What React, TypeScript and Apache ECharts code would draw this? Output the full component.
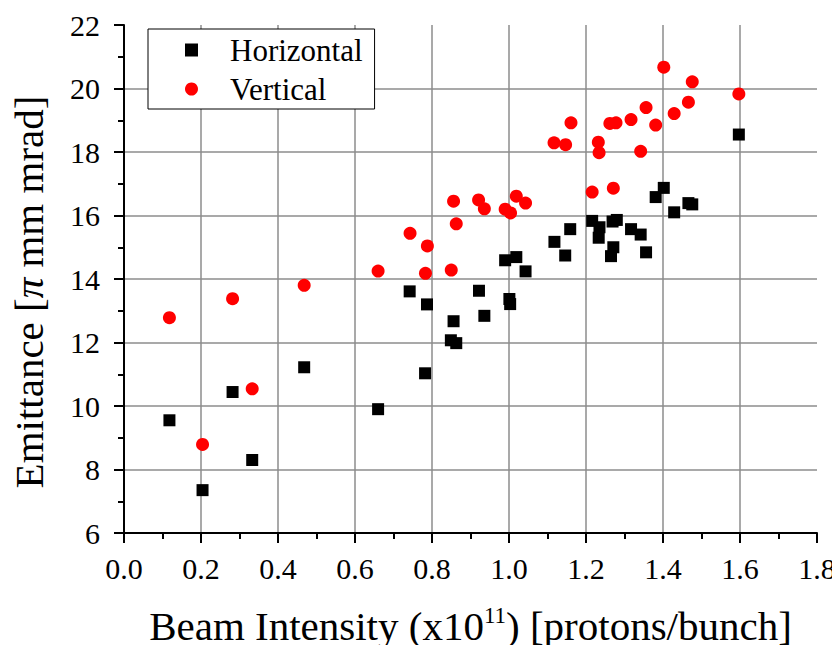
import React, { useEffect, useRef } from "react";
import * as echarts from "echarts";

const hx = [0.118, 0.204, 0.282, 0.333, 0.468, 0.660, 0.742, 0.787, 0.782, 0.856, 0.849, 0.863, 0.922, 0.936, 0.990, 1.001, 1.003, 1.019, 1.043, 1.118, 1.146, 1.159, 1.216, 1.235, 1.233, 1.271, 1.265, 1.269, 1.280, 1.317, 1.342, 1.356, 1.381, 1.402, 1.429, 1.466, 1.476, 1.597];
const hy = [9.55, 7.35, 10.44, 8.30, 11.22, 9.90, 13.61, 13.20, 11.03, 12.67, 12.07, 11.98, 13.63, 12.84, 14.59, 13.37, 13.21, 14.69, 14.24, 15.17, 14.74, 15.57, 15.83, 15.63, 15.30, 15.00, 14.72, 15.81, 15.86, 15.57, 15.40, 14.84, 16.58, 16.87, 16.10, 16.39, 16.35, 18.55];

const vx = [0.118, 0.204, 0.282, 0.333, 0.468, 0.660, 0.743, 0.788, 0.783, 0.850, 0.856, 0.863, 0.921, 0.936, 0.990, 1.004, 1.019, 1.043, 1.117, 1.147, 1.161, 1.216, 1.232, 1.234, 1.262, 1.271, 1.278, 1.317, 1.342, 1.356, 1.381, 1.402, 1.429, 1.466, 1.476, 1.597];
const vy = [12.78, 8.79, 13.38, 10.54, 13.80, 14.25, 15.44, 15.04, 14.18, 14.28, 16.45, 15.74, 16.49, 16.21, 16.20, 16.08, 16.61, 16.39, 18.29, 18.23, 18.92, 16.74, 18.31, 17.98, 18.90, 16.86, 18.92, 19.02, 18.02, 19.40, 18.85, 20.67, 19.21, 19.57, 20.21, 19.83];

const seriesNames = ["Horizontal", "Vertical"];
const xTitle = "Beam Intensity (x10{sup|11}) [protons/bunch]";
const yTitle = "Emittance [{i|π} mm mrad]";

const FONT = "Liberation Serif";

export default function App() {
  const ref = useRef<HTMLDivElement>(null);
  useEffect(() => {
    if (!ref.current) return;
    const chart = echarts.init(ref.current, null, { renderer: "svg" });
    const zip = (xs: number[], ys: number[]) => xs.map((x, i) => [x, ys[i]]);
    chart.setOption({
      animation: false,
      backgroundColor: "#ffffff",
      textStyle: { fontFamily: FONT },
      grid: { left: 124, right: 23, top: 25, bottom: 120, containLabel: false },
      legend: {
        orient: "vertical",
        left: 148,
        top: 29,
        data: [
          { name: seriesNames[0], icon: "rect" },
          { name: seriesNames[1], icon: "circle" },
        ],
        itemWidth: 13,
        itemHeight: 13,
        itemGap: 7,
        padding: [5, 12, 4, 37],
        borderColor: "#000",
        borderWidth: 1,
        borderRadius: 0,
        backgroundColor: "#fff",
        itemStyle: { opacity: 1 },
        textStyle: {
          fontFamily: FONT,
          fontSize: 31,
          color: "#000",
          lineHeight: 32,
          padding: [0, 0, 0, 27],
        },
      },
      xAxis: {
        type: "value",
        min: 0,
        max: 1.8,
        interval: 0.2,
        name: xTitle,
        nameLocation: "middle",
        nameGap: 71,
        nameTextStyle: {
          fontFamily: FONT,
          fontSize: 41,
          color: "#000",
          rich: {
            sup: { fontFamily: FONT, fontSize: 23, color: "#000", padding: [0, 0, 20, 0] },
          },
        },
        axisLine: { show: true, lineStyle: { color: "#000", width: 2 } },
        axisTick: { show: true, inside: false, length: 10, lineStyle: { color: "#000", width: 2 } },
        minorTick: { show: true, splitNumber: 2, length: 6, lineStyle: { color: "#000", width: 2 } },
        axisLabel: {
          fontFamily: FONT,
          fontSize: 30,
          color: "#000",
          margin: 20,
          formatter: (v: number) => v.toFixed(1),
        },
        splitLine: { show: true, showMinLine: false, showMaxLine: false, lineStyle: { color: "#8c8c8c", width: 1.5 } },
      },
      yAxis: {
        type: "value",
        min: 6,
        max: 22,
        interval: 2,
        axisLine: { show: true, lineStyle: { color: "#000", width: 2 } },
        axisTick: { show: true, inside: false, length: 10, lineStyle: { color: "#000", width: 2 } },
        minorTick: { show: true, splitNumber: 2, length: 6, lineStyle: { color: "#000", width: 2 } },
        axisLabel: { fontFamily: FONT, fontSize: 30, color: "#000", margin: 24 },
        splitLine: { show: true, showMinLine: false, showMaxLine: false, lineStyle: { color: "#8c8c8c", width: 1.5 } },
      },
      graphic: [
        {
          type: "text",
          x: 29,
          y: 292,
          rotation: Math.PI / 2,
          style: {
            text: yTitle,
            fontFamily: FONT,
            fontSize: 41,
            fill: "#000",
            align: "center",
            verticalAlign: "middle",
            rich: {
              i: { fontFamily: FONT, fontSize: 41, fontStyle: "italic", fill: "#000" },
            },
          },
        },
      ],
      series: [
        {
          name: seriesNames[0],
          type: "scatter",
          symbol: "rect",
          symbolSize: 12,
          itemStyle: { color: "#000000", opacity: 1 },
          data: zip(hx, hy),
          z: 3,
        },
        {
          name: seriesNames[1],
          type: "scatter",
          symbol: "circle",
          symbolSize: 13,
          itemStyle: { color: "#ff0000", opacity: 1 },
          data: zip(vx, vy),
          z: 2,
        },
      ],
    });
    return () => chart.dispose();
  }, []);
  return <div ref={ref} style={{ width: 840, height: 653, margin: -8 }} />;
}
